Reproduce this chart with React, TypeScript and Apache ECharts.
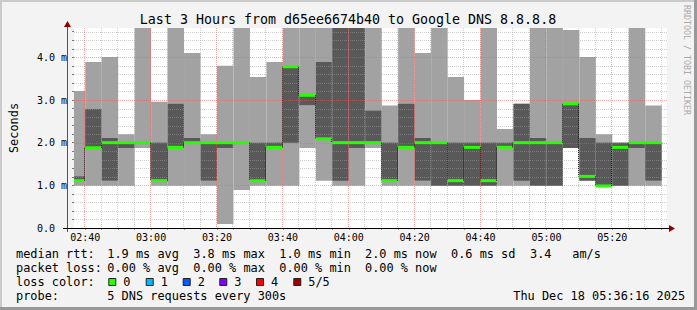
import React, { useEffect, useRef } from "react";
import * as echarts from "echarts";

// ---- data (milliseconds), one entry per 5-minute step, keyed by step end time ----
const times = [
  "02:40", "02:45", "02:50", "02:55", "03:00", "03:05", "03:10", "03:15", "03:20", "03:25",
  "03:30", "03:35", "03:40", "03:45", "03:50", "03:55", "04:00", "04:05", "04:10", "04:15",
  "04:20", "04:25", "04:30", "04:35", "04:40", "04:45", "04:50", "04:55", "05:00", "05:05",
  "05:10", "05:15", "05:20", "05:25", "05:30", "05:35",
];
const pingMin = [
  0.99, 0.99, 0.99, 0.99, 1.875, 0.99, 0.99, 0.99, 0.99, 0.094,
  0.89, 0.99, 0.99, 0.99, 1.875, 1.11, 0.99, 0.99, 1.875, 0.99,
  0.99, 0.99, 0.99, 0.99, 0.99, 0.99, 0.99, 0.99, 0.99, 0.99,
  1.875, 1.11, 0.97, 0.99, 0.99, 0.99,
];
const pingLowQ = [
  1.10, 1.88, 1.11, 1.875, 2.0, 1.09, 1.89, 2.0, 1.11, 1.875,
  2.0, 1.09, 1.89, 2.0, 2.88, 2.09, 1.11, 1.875, 2.0, 1.09,
  1.89, 1.11, 0.99, 0.99, 0.99, 0.99, 1.89, 1.11, 0.99, 0.99,
  1.875, 1.11, 0.99, 0.99, 1.875, 1.11,
];
const pingMedian = [
  1.11, 1.88, 2.0, 2.0, 2.0, 1.11, 1.89, 2.0, 2.0, 2.0,
  2.0, 1.11, 1.89, 3.78, 3.11, 2.09, 2.0, 2.0, 2.0, 1.11,
  1.89, 2.0, 2.0, 1.11, 1.89, 1.11, 1.89, 2.0, 2.0, 2.0,
  2.91, 1.21, 0.985, 1.89, 2.0, 2.0,
];
const pingHighQ = [
  1.21, 2.79, 2.11, 2.0, 2.0, 2.0, 2.91, 2.11, 2.0, 2.0,
  2.0, 2.0, 2.0, 3.78, 3.11, 3.89, 4.8, 4.8, 2.75, 2.0,
  2.91, 2.11, 2.0, 2.0, 2.0, 2.0, 2.0, 2.91, 2.11, 2.0,
  2.91, 2.11, 2.0, 2.0, 2.0, 2.0,
];
const pingMax = [
  3.21, 3.89, 4.01, 2.2, 4.8, 2.96, 4.8, 4.1, 2.2, 3.8,
  4.8, 3.54, 3.89, 4.8, 4.8, 4.8, 4.8, 4.8, 4.8, 2.87,
  4.8, 4.1, 4.8, 3.54, 3.0, 4.8, 2.32, 2.91, 4.8, 4.8,
  4.64, 4.01, 2.2, 2.0, 4.8, 2.87,
];

const xTickLabels = ["02:40", "03:00", "03:20", "03:40", "04:00", "04:20", "04:40", "05:00", "05:20"];
const yTickValues = [0, 1, 2, 3, 4];
const yTickLabels = ["0.0", "1.0 m", "2.0 m", "3.0 m", "4.0 m"];

const titleText = "Last 3 Hours from d65ee6674b40 to Google DNS 8.8.8.8";
const rttLegend = ["median rtt:", "1.9 ms avg", "3.8 ms max", "1.0 ms min", "2.0 ms now", "0.6 ms sd", "3.4", "am/s"];
const lossLegend = ["packet loss:", "0.00 % avg", "0.00 % max", "0.00 % min", "0.00 % now"];
const lossColorLabels = ["0", "1", "2", "3", "4", "5/5"];
const lossColors = ["#26ff00", "#00b8ff", "#0059ff", "#7e00ff", "#ff0000", "#a10000"];
const probeLegend = ["probe:", "5 DNS requests every 300s"];
const stampText = "Thu Dec 18 05:36:16 2025";
const sideText = "RRDTOOL / TOBI OETIKER";

// ---- helpers / layout ----
const FONT = '"DejaVu Sans Mono", monospace';
const STEP = 5;
const toMin = (s: string) => {
  const [h, m] = s.split(":").map(Number);
  return h * 60 + m;
};
const X_MIN = toMin("02:36") + 0.6;
const X_MAX = X_MIN + 180;
const Y_MAX = 4.6875;
const LIGHT = "#a2a2a2";
const DARK = "#595959";
const MINOR_GRID = "rgba(160,160,160,0.5)";
const MAJOR_GRID = "rgba(240,90,90,0.5)";

export default function App() {
  const ref = useRef<HTMLDivElement>(null);
  useEffect(() => {
    if (!ref.current) return;
    const chart = echarts.init(ref.current, undefined, { renderer: "svg" });

    const smokeData = times.map((t, i) => [toMin(t), pingMin[i], pingLowQ[i], pingMedian[i], pingHighQ[i], pingMax[i]]);
    const medData = times.map((t, i) => [toMin(t), pingMedian[i], i > 0 ? pingMedian[i - 1] : pingMedian[i]]);

    const vGrid: number[][] = [];
    for (let v = toMin("02:40"); v <= toMin("05:35"); v += STEP) vGrid.push([v, 0]);
    const hGrid: number[][] = [];
    for (let k = 1; k <= 23; k++) hGrid.push([X_MIN, +(k * 0.2).toFixed(1)]);
    const xTickVals = xTickLabels.map(toMin);
    const xMinorTicks = vGrid.map((d) => d[0]);
    const yMinorTicks: number[] = [];
    for (let k = 0; k <= 23; k++) yMinorTicks.push(+(k * 0.2).toFixed(1));

    const boxOf = (params: any) => {
      const cs = params.coordSys;
      return { x: cs.x, y: cs.y, width: cs.width, height: cs.height };
    };

    const legendRowY = [254, 268, 282, 296];
    const rttX = [16, 107.3, 193.3, 279.3, 365, 451, 530, 572.3];
    const boxX = [108.3, 145.7, 182.7, 219.3, 256, 293.3];

    const txt = (text: string, x: number, y: number, extra: any = {}) => ({
      type: "text",
      x,
      y,
      silent: true,
      style: {
        text,
        fill: "#000",
        font: `11.9px ${FONT}`,
        textAlign: "left",
        textVerticalAlign: "middle",
        ...extra,
      },
    });

    const graphic: any[] = [
      // bevel border
      { type: "rect", shape: { x: 0, y: 0, width: 697, height: 2 }, style: { fill: "#cbcbcb" }, silent: true },
      { type: "rect", shape: { x: 0, y: 0, width: 2, height: 310 }, style: { fill: "#cbcbcb" }, silent: true },
      { type: "rect", shape: { x: 0, y: 307, width: 697, height: 3 }, style: { fill: "#999999" }, silent: true },
      { type: "rect", shape: { x: 694, y: 0, width: 3, height: 310 }, style: { fill: "#999999" }, silent: true },
      // axes
      { type: "line", shape: { x1: 67.5, y1: 232, x2: 67.5, y2: 25 }, style: { stroke: "#555", lineWidth: 1 }, silent: true, z: 50 },
      { type: "line", shape: { x1: 63, y1: 228.5, x2: 670, y2: 228.5 }, style: { stroke: "#000", lineWidth: 1 }, silent: true, z: 50 },
      { type: "polygon", shape: { points: [[64, 27], [67.5, 21], [71, 27]] }, style: { fill: "#8b0000" }, silent: true, z: 51 },
      { type: "polygon", shape: { points: [[669, 225], [675, 228.5], [669, 232]] }, style: { fill: "#8b0000" }, silent: true, z: 51 },
      // title
      txt(titleText, 348, 19, { font: `13.3px ${FONT}`, textAlign: "center" }),
      // side credit
      {
        type: "text",
        x: 687,
        y: 5,
        rotation: -Math.PI / 2,
        silent: true,
        style: { text: sideText, fill: "#aaaaaa", font: `8.3px ${FONT}`, textAlign: "left", textVerticalAlign: "middle" },
      },
    ];
    rttLegend.forEach((s, i) => graphic.push(txt(s, rttX[i], legendRowY[0])));
    lossLegend.forEach((s, i) => graphic.push(txt(s, rttX[i], legendRowY[1])));
    graphic.push(txt("loss color:", 16, legendRowY[2]));
    lossColorLabels.forEach((s, i) => {
      graphic.push({
        type: "rect",
        shape: { x: boxX[i] + 0.5, y: 278.5, width: 7, height: 7 },
        style: { fill: lossColors[i], stroke: "#222", lineWidth: 1 },
        silent: true,
      });
      graphic.push(txt(s, boxX[i] + 15, legendRowY[2]));
    });
    graphic.push(txt(probeLegend[0], 16, legendRowY[3]));
    graphic.push(txt(probeLegend[1], 107.3, legendRowY[3]));
    graphic.push(txt(stampText, 513.3, legendRowY[3]));

    const option: any = {
      animation: false,
      backgroundColor: "#f3f3f3",
      grid: { left: 67, top: 28, width: 600, height: 200, show: true, backgroundColor: "#ffffff", borderWidth: 0 },
      xAxis: {
        type: "value",
        min: X_MIN,
        max: X_MAX,
        axisLine: { show: false },
        splitLine: { show: false },
        axisTick: { show: true, customValues: xMinorTicks, length: 2, lineStyle: { color: "#999" } },
        axisLabel: {
          customValues: xTickVals,
          formatter: (v: number) => xTickLabels[xTickVals.indexOf(Math.round(v))] ?? "",
          margin: 4,
          fontFamily: FONT,
          fontSize: 10,
          color: "#000",
        },
      },
      yAxis: {
        type: "value",
        min: 0,
        max: Y_MAX,
        axisLine: { show: false },
        splitLine: { show: false },
        axisTick: { show: true, customValues: yMinorTicks, length: 2, lineStyle: { color: "#777" } },
        axisLabel: {
          customValues: yTickValues,
          formatter: (v: number) => yTickLabels[yTickValues.indexOf(Math.round(v))] ?? "",
          align: "left",
          margin: 37,
          fontFamily: FONT,
          fontSize: 10,
          color: "#000",
        },
        name: "Seconds",
        nameLocation: "middle",
        nameRotate: 90,
        nameGap: 54,
        nameTextStyle: { fontFamily: FONT, fontSize: 11.9, color: "#000" },
      },
      graphic,
      series: [
        {
          type: "custom",
          name: "smoke",
          z: 2,
          silent: true,
          data: smokeData,
          encode: { x: 0, y: 1 },
          renderItem: (params: any, api: any) => {
            const end = api.value(0);
            const start = end - STEP;
            const box = boxOf(params);
            const mk = (lo: number, hi: number, fill: string) => {
              if (hi <= lo) return null;
              const a = api.coord([start, hi]);
              const b = api.coord([end, lo]);
              const shape = echarts.graphic.clipRectByRect(
                { x: a[0], y: a[1], width: b[0] - a[0], height: b[1] - a[1] },
                box
              );
              return shape ? { type: "rect", shape, style: { fill } } : null;
            };
            const children = [
              mk(api.value(1), api.value(5), LIGHT),
              mk(api.value(2), api.value(4), DARK),
            ].filter(Boolean);
            return { type: "group", children };
          },
        },
        {
          type: "custom",
          name: "vgrid",
          z: 3,
          silent: true,
          data: vGrid,
          encode: { x: 0, y: 1 },
          renderItem: (params: any, api: any) => {
            const v = api.value(0);
            const cs = params.coordSys;
            const x = Math.round(api.coord([v, 0])[0]) - 0.5;
            const major = (v - toMin("02:40")) % 20 === 0;
            return {
              type: "line",
              shape: { x1: x, y1: cs.y, x2: x, y2: cs.y + cs.height },
              style: {
                stroke: major ? MAJOR_GRID : MINOR_GRID,
                lineWidth: 1,
                lineDash: [1, 1],
              },
            };
          },
        },
        {
          type: "custom",
          name: "hgrid",
          z: 3,
          silent: true,
          data: hGrid,
          encode: { x: 0, y: 1 },
          renderItem: (params: any, api: any) => {
            const v = api.value(1);
            const cs = params.coordSys;
            const y = Math.round(api.coord([X_MIN, v])[1]) + 0.5;
            const major = Math.abs(v - Math.round(v)) < 1e-6;
            return {
              type: "line",
              shape: { x1: cs.x, y1: y, x2: cs.x + cs.width, y2: y },
              style: {
                stroke: major ? MAJOR_GRID : MINOR_GRID,
                lineWidth: 1,
                lineDash: [1, 1],
              },
            };
          },
        },
        {
          type: "custom",
          name: "median",
          z: 4,
          silent: true,
          data: medData,
          encode: { x: 0, y: 1 },
          renderItem: (params: any, api: any) => {
            const end = api.value(0);
            const start = end - STEP;
            const med = api.value(1);
            const prev = api.value(2);
            const box = boxOf(params);
            const a = api.coord([start, med]);
            const b = api.coord([end, med]);
            const children: any[] = [];
            if (Math.abs(prev - med) > 1e-6) {
              const p = api.coord([start, prev]);
              const x = Math.round(a[0]) - 0.5;
              children.push({
                type: "line",
                shape: { x1: x, y1: p[1], x2: x, y2: a[1] },
                style: { stroke: "#111", lineWidth: 1, lineDash: [1, 1] },
              });
            }
            const shape = echarts.graphic.clipRectByRect(
              { x: a[0], y: a[1] - 1.5, width: b[0] - a[0], height: 3 },
              box
            );
            if (shape) children.push({ type: "rect", shape, style: { fill: "#26ff00" } });
            return { type: "group", children };
          },
        },
      ],
    };
    chart.setOption(option);
    return () => chart.dispose();
  }, []);
  return (
    <div
      ref={ref}
      style={{ position: "fixed", left: 0, top: 0, width: 697, height: 310 }}
    />
  );
}
